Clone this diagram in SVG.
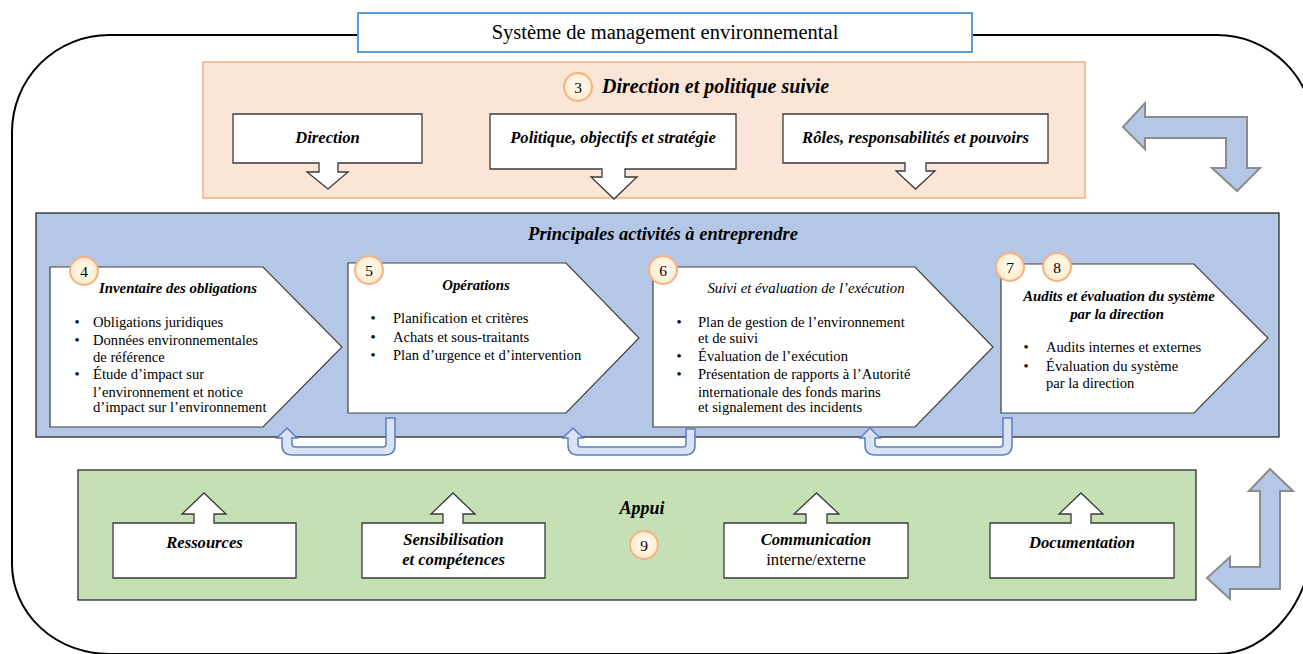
<svg xmlns="http://www.w3.org/2000/svg" width="1303" height="654" viewBox="0 0 1303 654">
<defs>
<style>
.t{font-family:"Liberation Serif","Times New Roman",serif;fill:#000}
.bi{font-weight:bold;font-style:italic}
.it{font-style:italic}
.hd{font-size:14.8px}
.bl{font-size:14.6px}
.lab{font-size:16.6px}
.box{fill:#fff;stroke:#3a3a3a;stroke-width:1.3}
.pent{fill:#fff;stroke:#404040;stroke-width:1.2}
.bent{fill:#B4C7E7;stroke:#8C8C8C;stroke-width:2}
.uarr{fill:#DAE3F3;stroke:#5B7FC4;stroke-width:1.5}
.badge{fill:url(#bg);stroke:#F4B183;stroke-width:2}
.bn{font-size:15.5px;text-anchor:middle}
</style>
<radialGradient id="bg" cx="50%" cy="45%" r="60%">
<stop offset="0" stop-color="#FFFBEF"/>
<stop offset="0.7" stop-color="#FFF0D6"/>
<stop offset="1" stop-color="#FCDDB8"/>
</radialGradient>
</defs>

<g id="frame">
<path d="M12,132 A97,97 0 0 1 109,35 L1217,35 A97,97 0 0 1 1314,132 L1314,530 A97,124 0 0 1 1217,654 L109,654 A97,90 0 0 1 12,564 Z" fill="none" stroke="#000" stroke-width="2"/>
</g>

<g id="title">
<rect x="358" y="13" width="614" height="39" fill="#fff" stroke="#5B9BD5" stroke-width="2"/>
<text class="t" x="665" y="39" font-size="20.5" text-anchor="middle">Système de management environnemental</text>
</g>

<g id="direction-politique">
<rect x="203" y="62" width="882" height="136" fill="#FBE5D6" stroke="#F4B183" stroke-width="1.5"/>
<text class="t bi" x="602" y="93" font-size="20">Direction et politique suivie</text>
</g>

<g id="badge3"><circle class="badge" cx="578" cy="87" r="14"/><text class="t bn" x="578" y="92.5">3</text></g>

<g id="n-direction">
<path class="box" d="M233,114 H422 V163 H338 V172 H348 L328,189 L307,172 H319 V163 H233 Z"/>
<text class="t bi lab" x="327.5" y="143" text-anchor="middle">Direction</text>
</g>
<g id="n-politique">
<path class="box" d="M490,114 H736 V169 H625 V177 H637 L614,199 L591,177 H602 V169 H490 Z"/>
<text class="t bi lab" x="613" y="143" text-anchor="middle">Politique, objectifs et stratégie</text>
</g>
<g id="n-roles">
<path class="box" d="M783,114 H1048 V163 H926 V171 H935 L915.5,189 L896,171 H905 V163 H783 Z"/>
<text class="t bi lab" x="915.5" y="143" text-anchor="middle">Rôles, responsabilités et pouvoirs</text>
</g>

<g id="activites">
<rect x="36" y="213" width="1243" height="224" fill="#B4C7E7" stroke="#1a1a1a" stroke-width="1.2"/>
<text class="t bi" x="663" y="240" font-size="18.5" text-anchor="middle">Principales activités à entreprendre</text>
</g>

<g id="p4">
<path class="pent" d="M50,267 H263 L342,347 L263,427 H50 Z"/>
<text class="t bi hd" x="178" y="293" text-anchor="middle">Inventaire des obligations</text>
<g class="t bl">
<text x="77" y="327" text-anchor="middle">•</text><text x="93" y="327">Obligations juridiques</text>
<text x="77" y="345" text-anchor="middle">•</text><text x="93" y="345">Données environnementales</text>
<text x="93" y="361.5">de référence</text>
<text x="77" y="379" text-anchor="middle">•</text><text x="93" y="379">Étude d’impact sur</text>
<text x="93" y="397">l’environnement et notice</text>
<text x="93" y="412">d’impact sur l’environnement</text>
</g>
</g>
<g id="badge4"><circle class="badge" cx="84" cy="271" r="14"/><text class="t bn" x="84" y="276.5">4</text></g>

<g id="p5">
<path class="pent" d="M348,263 H566 L639,338 L566,413 H348 Z"/>
<text class="t bi hd" x="476" y="290" text-anchor="middle">Opérations</text>
<g class="t bl">
<text x="373" y="323" text-anchor="middle">•</text><text x="393" y="323">Planification et critères</text>
<text x="373" y="341.5" text-anchor="middle">•</text><text x="393" y="341.5">Achats et sous-traitants</text>
<text x="373" y="360" text-anchor="middle">•</text><text x="393" y="360">Plan d’urgence et d’intervention</text>
</g>
</g>
<g id="badge5"><circle class="badge" cx="369" cy="270" r="14"/><text class="t bn" x="369" y="275.5">5</text></g>

<g id="p6">
<path class="pent" d="M653,267 H915 L993,347 L915,427 H653 Z"/>
<text class="t it hd" x="806" y="293" text-anchor="middle">Suivi et évaluation de l’exécution</text>
<g class="t bl">
<text x="679" y="327" text-anchor="middle">•</text><text x="698" y="327">Plan de gestion de l’environnement</text>
<text x="698" y="343">et de suivi</text>
<text x="679" y="361" text-anchor="middle">•</text><text x="698" y="361">Évaluation de l’exécution</text>
<text x="679" y="379" text-anchor="middle">•</text><text x="698" y="379">Présentation de rapports à l’Autorité</text>
<text x="698" y="397">internationale des fonds marins</text>
<text x="698" y="412">et signalement des incidents</text>
</g>
</g>
<g id="badge6"><circle class="badge" cx="663" cy="270" r="14"/><text class="t bn" x="663" y="275.5">6</text></g>

<g id="p78">
<path class="pent" d="M1001,264 H1194 L1268,338 L1194,413 H1001 Z"/>
<text class="t bi hd" x="1119" y="301" text-anchor="middle">Audits et évaluation du système</text>
<text class="t bi hd" x="1117" y="319" text-anchor="middle">par la direction</text>
<g class="t bl">
<text x="1026" y="352" text-anchor="middle">•</text><text x="1046" y="352">Audits internes et externes</text>
<text x="1026" y="371" text-anchor="middle">•</text><text x="1046" y="371">Évaluation du système</text>
<text x="1046" y="388">par la direction</text>
</g>
</g>
<g id="badge7"><circle class="badge" cx="1010" cy="267" r="14"/><text class="t bn" x="1010" y="272.5">7</text></g>
<g id="badge8"><circle class="badge" cx="1057" cy="267" r="14"/><text class="t bn" x="1057" y="272.5">8</text></g>

<g id="appui">
<rect x="78" y="470" width="1118" height="130" fill="#C5E0B4" stroke="#1a1a1a" stroke-width="1.2"/>
<text class="t bi" x="642" y="514" font-size="18" text-anchor="middle">Appui</text>
</g>
<g id="badge9"><circle class="badge" cx="644" cy="545" r="14"/><text class="t bn" x="644" y="550.5">9</text></g>

<g id="n-ressources">
<path class="box" d="M113,523 H194 V514 H182 L204,493 L226,514 H214 V523 H296 V578 H113 Z"/>
<text class="t bi lab" x="204.5" y="548" text-anchor="middle">Ressources</text>
</g>
<g id="n-sensibilisation">
<path class="box" d="M362,523 H443 V514 H431 L453,493 L475,514 H463 V523 H545 V578 H362 Z"/>
<text class="t bi lab" x="453.5" y="545" text-anchor="middle">Sensibilisation</text>
<text class="t bi lab" x="453.5" y="565" text-anchor="middle">et compétences</text>
</g>
<g id="n-communication">
<path class="box" d="M724,523 H806 V514 H794 L816.5,493 L839,514 H827 V523 H908 V578 H724 Z"/>
<text class="t bi lab" x="816" y="545" text-anchor="middle">Communication</text>
<text class="t lab" x="816" y="565" text-anchor="middle">interne/externe</text>
</g>
<g id="n-documentation">
<path class="box" d="M990,523 H1071 V514 H1059 L1081,493 L1103,514 H1091 V523 H1174 V578 H990 Z"/>
<text class="t bi lab" x="1082" y="548" text-anchor="middle">Documentation</text>
</g>

<g id="connectors">
<path class="uarr" d="M386,418 H395 V445 Q395,455 385,455 H292 Q282,455 282,445 V438 H277 L287,428 L297,438 H292 V444 Q292,447 295,447 H383 Q386,447 386,444 Z"/>
<path class="uarr" d="M686,429 H695 V445 Q695,455 685,455 H578 Q568,455 568,445 V438 H563 L573,428 L583,438 H578 V444 Q578,447 581,447 H683 Q686,447 686,444 Z"/>
<path class="uarr" d="M1003,418 H1012 V445 Q1012,455 1002,455 H875 Q865,455 865,445 V438 H860 L870,428 L880,438 H875 V444 Q875,447 878,447 H1000 Q1003,447 1003,444 Z"/>
<path class="bent" d="M1123,127 L1145,103 L1145,117 L1247,117 L1247,168 L1260,168 L1237,191 L1212,168 L1226,168 L1226,138 L1145,138 L1145,149 Z"/>
<path class="bent" d="M1270,469 L1293,491 L1280,491 L1280,589 L1230,589 L1230,599 L1207,578 L1230,557 L1230,567 L1260,567 L1260,491 L1249,491 Z"/>
</g>
</svg>
